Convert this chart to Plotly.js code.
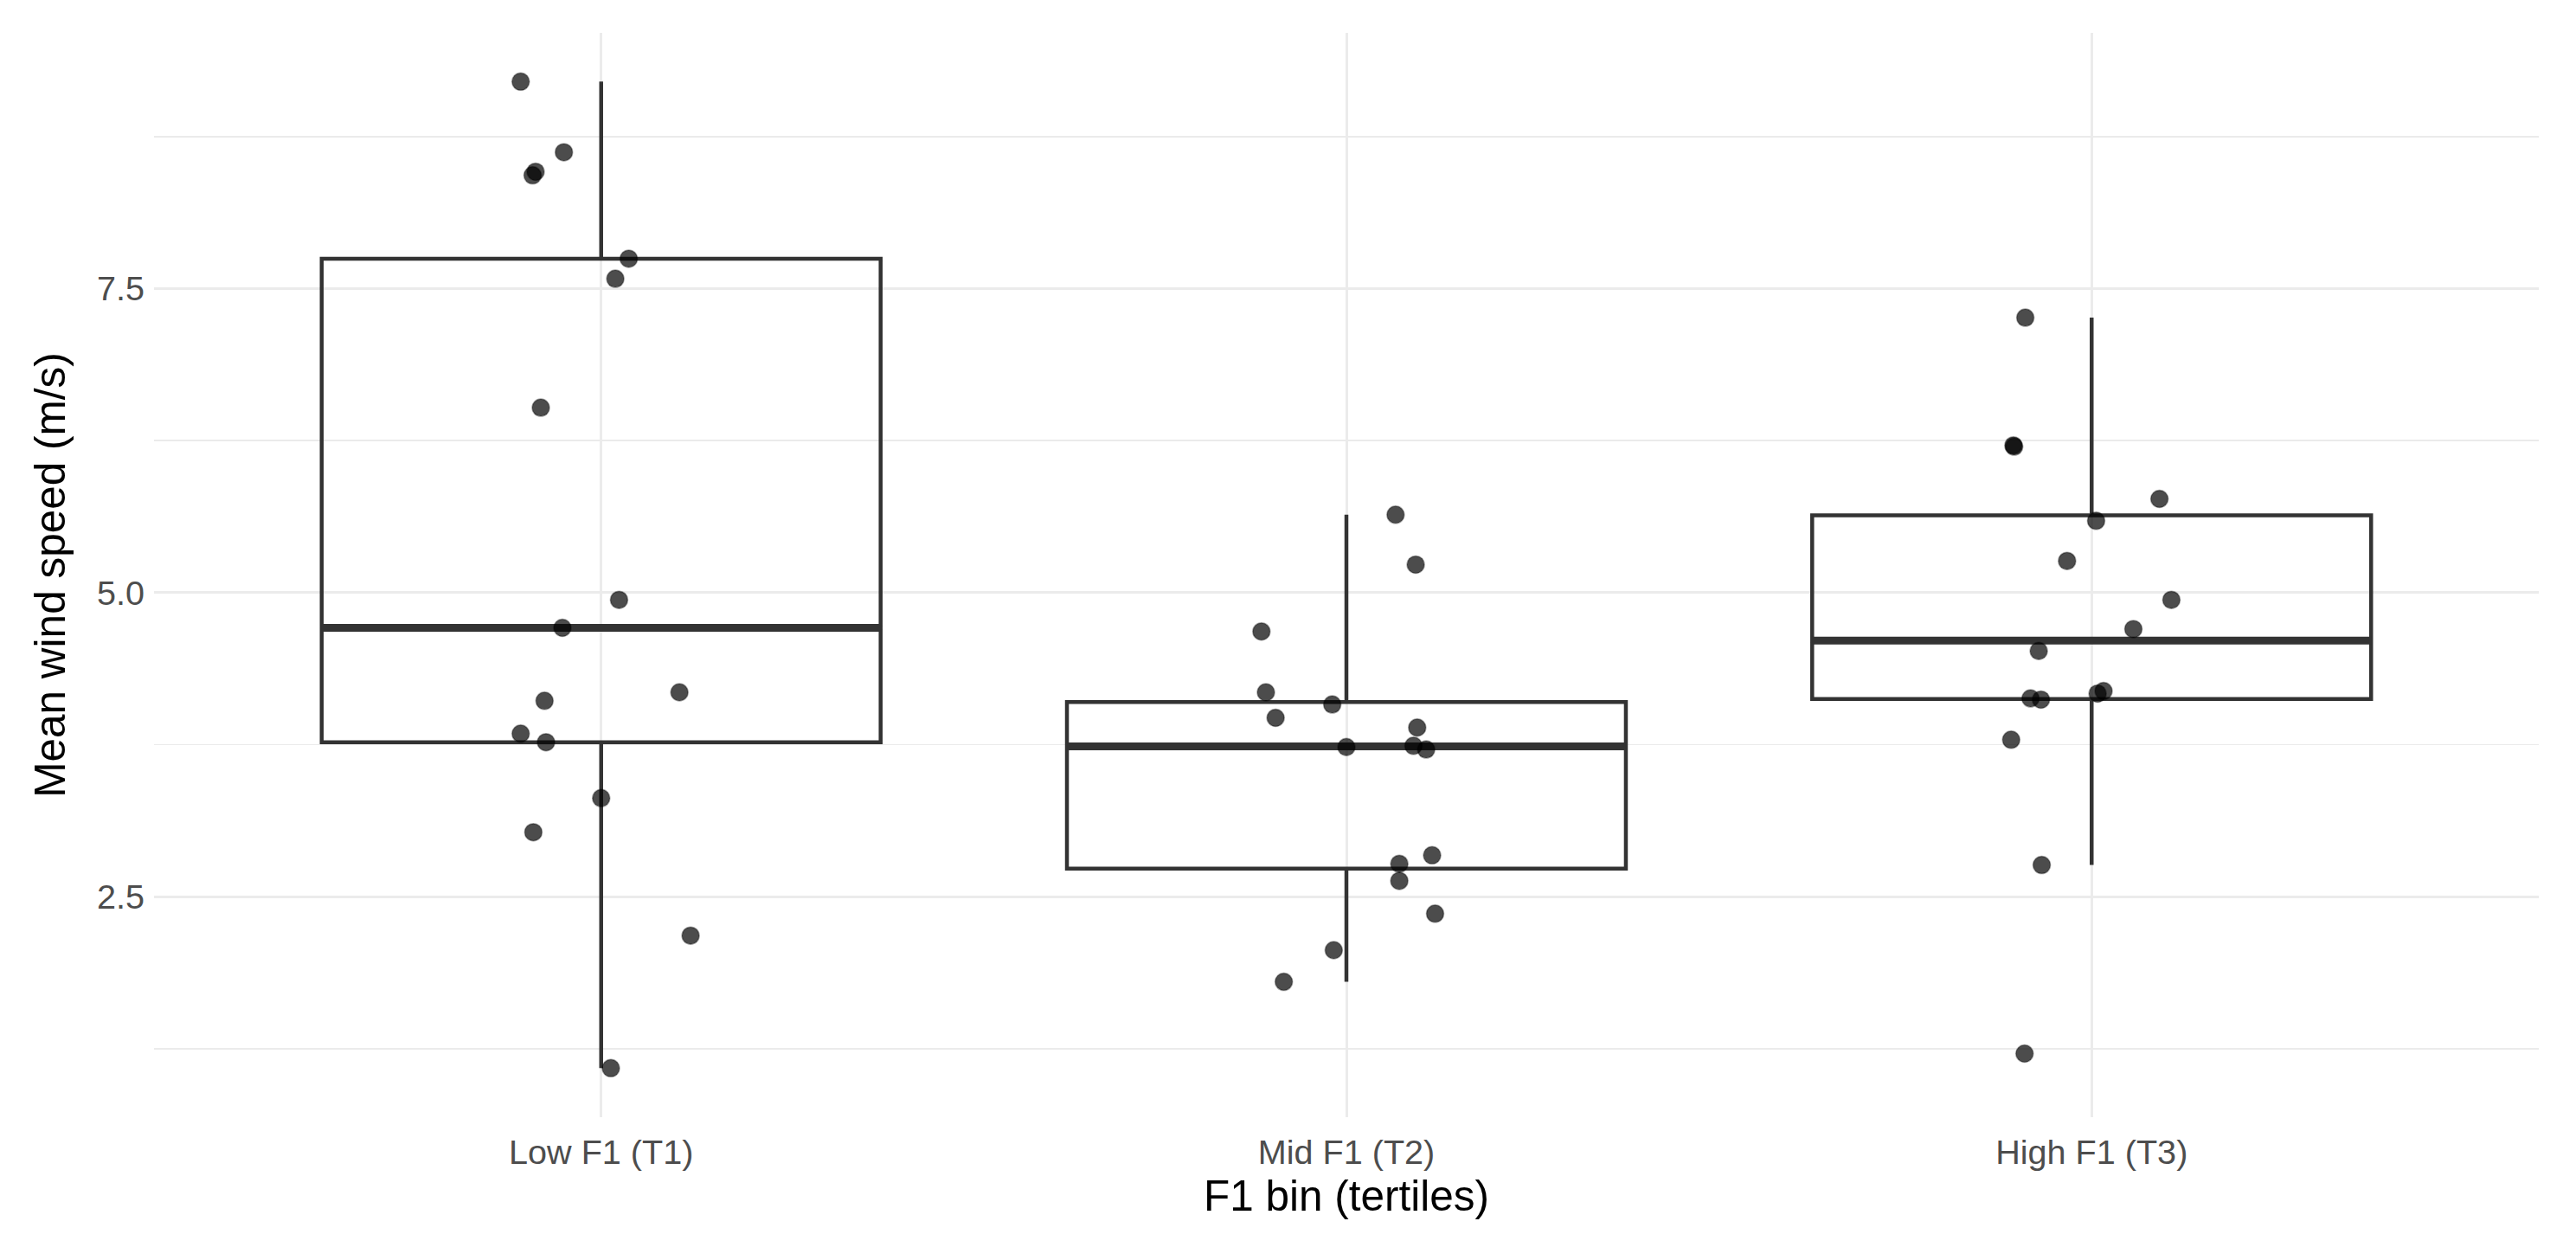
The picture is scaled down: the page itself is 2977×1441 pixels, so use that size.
<!DOCTYPE html>
<html>
<head>
<meta charset="utf-8">
<script src="https://cdn.plot.ly/plotly-3.0.1.min.js"></script>
<style>html,body{margin:0;padding:0;background:#fff;}#chart{width:2977px;height:1441px;}</style>
</head>
<body>
<div id="chart"></div>
<script>
// Categories (F1 tertile bins)
const categories = ['Low F1 (T1)', 'Mid F1 (T2)', 'High F1 (T3)'];

const lowValues  = [9.20, 8.62, 8.46, 8.43, 7.745, 7.58, 6.52, 4.94, 4.71, 4.11, 4.18, 3.84, 3.77, 3.31, 3.03, 2.18, 1.09];
const lowJitter  = [-0.108, -0.050, -0.088, -0.092, 0.037, 0.019, -0.081, 0.024, -0.052, -0.076, 0.105, -0.108, -0.074, 0.000, -0.091, 0.120, 0.013];

const midValues  = [5.64, 5.23, 4.68, 4.18, 3.97, 4.08, 3.89, 3.73, 3.74, 3.71, 2.84, 2.77, 2.63, 2.36, 2.06, 1.80];
const midJitter  = [0.066, 0.093, -0.114, -0.108, -0.095, -0.019, 0.095, 0.000, 0.090, 0.107, 0.115, 0.071, 0.071, 0.119, -0.017, -0.084];

const highValues = [7.26, 6.21, 6.20, 5.77, 5.59, 5.26, 4.94, 4.70, 4.52, 4.13, 4.12, 4.17, 4.19, 3.79, 2.76, 1.21];
const highJitter = [-0.089, -0.105, -0.104, 0.091, 0.006, -0.033, 0.107, 0.056, -0.071, -0.082, -0.068, 0.008, 0.016, -0.108, -0.067, -0.090];

// Box statistics
const boxQ1       = [3.77, 2.73, 4.125];
const boxMedian   = [4.71, 3.735, 4.605];
const boxQ3       = [7.745, 4.10, 5.635];
const whiskerLow  = [1.09, 1.80, 2.76];
const whiskerHigh = [9.20, 5.64, 7.26];

const groupValues = [lowValues, midValues, highValues];
const groupJitter = [lowJitter, midJitter, highJitter];

const BOX_WIDTH = 0.75;
const LINE_COLOR = '#333333';
const positions = categories.map((c, i) => i + 1);

const traces = [];

// Boxes (no whisker caps, hollow)
traces.push({
  type: 'box',
  x: positions,
  q1: boxQ1,
  median: boxMedian,
  q3: boxQ3,
  lowerfence: whiskerLow,
  upperfence: whiskerHigh,
  width: BOX_WIDTH,
  whiskerwidth: 0,
  boxpoints: false,
  fillcolor: 'rgba(255,255,255,0)',
  line: {color: LINE_COLOR, width: 4.5},
  showlegend: false,
  hoverinfo: 'skip'
});

// Thicker median lines (ggplot fatten)
positions.forEach((p, i) => {
  traces.push({
    type: 'scatter',
    mode: 'lines',
    x: [p - BOX_WIDTH / 2, p + BOX_WIDTH / 2],
    y: [boxMedian[i], boxMedian[i]],
    line: {color: LINE_COLOR, width: 9},
    showlegend: false,
    hoverinfo: 'skip'
  });
});

// Jittered points
positions.forEach((p, i) => {
  traces.push({
    type: 'scatter',
    mode: 'markers',
    x: groupJitter[i].map(j => p + j),
    y: groupValues[i],
    marker: {
      size: 20,
      color: 'rgba(0,0,0,0.7)',
      line: {color: 'rgba(0,0,0,0.35)', width: 1.5}
    },
    showlegend: false,
    hoverinfo: 'y'
  });
});

const layout = {
  width: 2977,
  height: 1441,
  margin: {l: 178, r: 43, t: 38, b: 150},
  paper_bgcolor: '#ffffff',
  plot_bgcolor: '#ffffff',
  font: {family: 'Liberation Sans, Arial, sans-serif', color: '#000000'},
  showlegend: false,
  xaxis: {
    range: [0.4, 3.6],
    tickmode: 'array',
    tickvals: positions,
    ticktext: categories,
    showgrid: true,
    gridcolor: '#EBEBEB',
    gridwidth: 3,
    zeroline: false,
    showline: false,
    ticks: '',
    ticklabelstandoff: 13,
    tickfont: {size: 39.6, color: '#4D4D4D', family: 'Liberation Sans, Arial, sans-serif'},
    title: {text: 'F1 bin (tertiles)', font: {size: 49.5, color: '#000000', family: 'Liberation Sans, Arial, sans-serif'}, standoff: 12}
  },
  yaxis: {
    range: [0.687, 9.601],
    tickmode: 'linear',
    tick0: 0,
    dtick: 2.5,
    tickformat: '.1f',
    showgrid: true,
    gridcolor: '#EBEBEB',
    gridwidth: 3,
    minor: {tickmode: 'linear', tick0: 0, dtick: 1.25, showgrid: true, gridcolor: '#EBEBEB', gridwidth: 1.8, ticks: ''},
    zeroline: false,
    showline: false,
    ticks: '',
    ticklabelstandoff: 10,
    tickfont: {size: 39.6, color: '#4D4D4D', family: 'Liberation Sans, Arial, sans-serif'},
    title: {text: 'Mean wind speed (m/s)', font: {size: 49.5, color: '#000000', family: 'Liberation Sans, Arial, sans-serif'}, standoff: 20}
  }
};

Plotly.newPlot('chart', traces, layout, {displayModeBar: false, staticPlot: true});
</script>
</body>
</html>
